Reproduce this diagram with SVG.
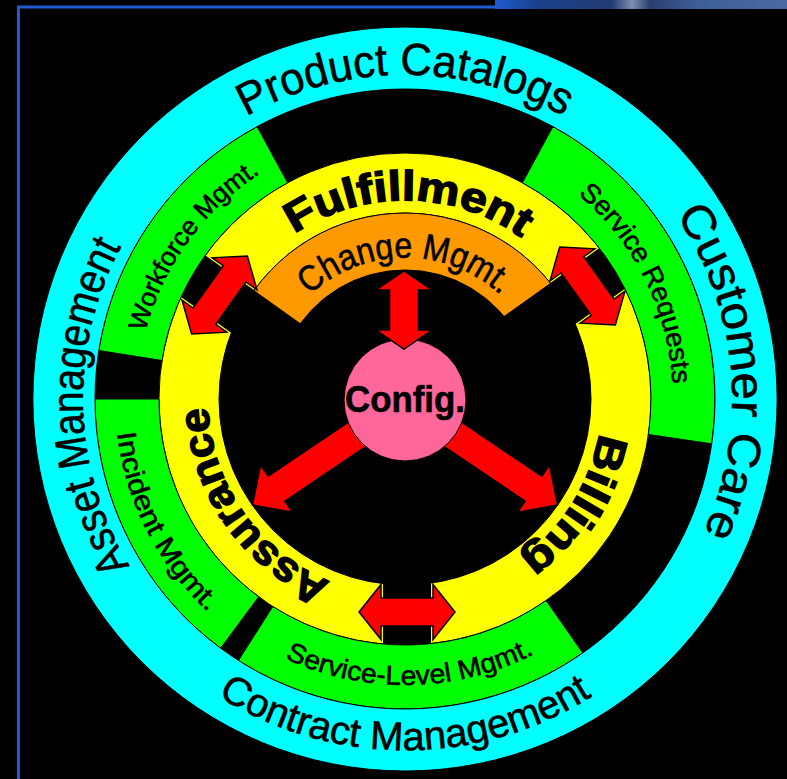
<svg xmlns="http://www.w3.org/2000/svg" width="787" height="779" viewBox="0 0 787 779">
<defs>
<style>
.ln{stroke:#000;stroke-width:1}
.lbl{font-family:'Liberation Sans',Arial,Helvetica,sans-serif;fill:#000;stroke:#000;stroke-width:0.6}
.bd{font-weight:bold;stroke-width:1.5}
.arr{fill:#f00;stroke:#000;stroke-width:1.5;stroke-linejoin:miter}
.band{fill:#000}
</style>
<linearGradient id="tr" x1="0" y1="0" x2="1" y2="0">
<stop offset="0" stop-color="#1e5bd0"/>
<stop offset="0.15" stop-color="#1a3f8a"/>
<stop offset="0.4" stop-color="#223c74"/>
<stop offset="0.47" stop-color="#7f8fb0"/>
<stop offset="0.53" stop-color="#2a3f70"/>
<stop offset="0.7" stop-color="#3f5f98"/>
<stop offset="1" stop-color="#4a68a0"/>
</linearGradient>
<polygon id="dbl" points="-48,0 -26,-27.5 -26,-14 26,-14 26,-27.5 48,0 26,27.5 26,14 -26,14 -26,27.5"/>
<polygon id="sgl" points="40,-15 155,-15 155,-28.5 184,0 155,28.5 155,15 40,15"/>
<path id="pPC" d="M85.9,342.7 A324,324 0 0 1 724.1,342.7"/>
<path id="pCC" d="M433.5,73.2 A327,327 0 0 1 489.6,714.9"/>
<path id="pAM" d="M357.4,717.5 A322,322 0 0 1 340.8,83.5"/>
<path id="pCM" d="M59.3,460 A351,351 0 0 0 750.7,460"/>
<path id="pWF" d="M212.6,585.5 A268,268 0 0 1 522.1,157.9"/>
<path id="pSR" d="M328.9,142 A268,268 0 0 1 564.4,614.4"/>
<path id="pIM" d="M230.5,167.4 A290,290 0 0 0 489.8,676.3"/>
<path id="pSL" d="M124.3,453.6 A286,286 0 0 0 687.5,443.7"/>
<path id="pFU" d="M209.7,361 A199,199 0 0 1 601.5,367.9"/>
<path id="pBI" d="M536.8,252.6 A197,197 0 0 1 331.2,581.7"/>
<path id="pAS" d="M488.5,577.5 A197,197 0 0 1 265.7,259.7"/>
<path id="pCH" d="M266.1,374.5 A141,141 0 0 1 543.9,374.5"/>
</defs>
<rect width="787" height="779" fill="#000"/>
<g id="frame">
<rect x="495" y="0" width="292" height="9" fill="url(#tr)"/>
<line x1="17" y1="7" x2="496" y2="7" stroke="#1e5bd0" stroke-width="3"/>
<line x1="18.5" y1="6" x2="18.5" y2="779" stroke="#1e5bd0" stroke-width="3"/>
</g>
<g id="yellow-ring">
<path class="ln" fill="#ff0" fill-rule="evenodd" d="M405,153 A246,246 0 1 1 405,645 A246,246 0 1 1 405,153 Z M405,213 A186,186 0 1 0 405,585 A186,186 0 1 0 405,213 Z"/>
</g>
<g id="change-mgmt">
<path class="ln" fill="#f90" d="M240.8,311.7 A186,186 0 0 1 569.2,311.7 L518.9,338.4 A129,129 0 0 0 291.1,338.4 Z"/>
</g>
<g id="gaps">
<rect class="band" x="-40" y="-24" width="160" height="48" transform="translate(219.5,295) rotate(35.5)"/>
<rect class="band" x="-40" y="-24" width="160" height="48" transform="translate(587.5,286) rotate(144.5)"/>
<rect class="band" x="383" y="500" width="48" height="155"/>
</g>
<g id="workforce-mgmt">
<path class="ln" fill="#0f0" d="M98.8,350.5 A310,310 0 0 1 257.1,126.6 L287.6,182.8 A246,246 0 0 0 162,360.5 Z"/>
</g>
<g id="service-requests">
<path class="ln" fill="#0f0" d="M552.9,126.6 A310,310 0 0 1 711.7,443.8 L648.4,434.5 A246,246 0 0 0 522.4,182.8 Z"/>
</g>
<g id="service-level-mgmt">
<path class="ln" fill="#0f0" d="M582.8,652.9 A310,310 0 0 1 238.4,660.5 L272.8,606.5 A246,246 0 0 0 546.1,600.5 Z"/>
</g>
<g id="incident-mgmt">
<path class="ln" fill="#0f0" d="M220.6,648.2 A310,310 0 0 1 95,399 L159,399 A246,246 0 0 0 258.7,596.8 Z"/>
</g>
<g id="outer-ring">
<path class="ln" fill="#0ff" fill-rule="evenodd" d="M405,27 A372,372 0 1 1 405,771 A372,372 0 1 1 405,27 Z M405,89 A310,310 0 1 0 405,709 A310,310 0 1 0 405,89 Z"/>
</g>
<g id="connectors">
<use href="#sgl" class="arr" transform="translate(405,402) rotate(34)"/>
<use href="#sgl" class="arr" transform="translate(405,402) rotate(146)"/>
</g>
<g id="config">
<circle class="ln" cx="405" cy="400" r="61" fill="#f69"/>
<text class="lbl" x="405" y="412" font-size="37" font-weight="bold" stroke-width="0.8" text-anchor="middle" textLength="120" lengthAdjust="spacingAndGlyphs">Config.</text>
</g>
<g id="connectors-top">
<polygon class="arr" points="404,271 432,290 418.5,290 418.5,330 432,330 404,349 376,330 389.5,330 389.5,290 376,290"/>
<use href="#dbl" class="arr" transform="translate(407,612)"/>
<use href="#dbl" class="arr" transform="translate(219.5,295) rotate(-54.5)"/>
<use href="#dbl" class="arr" transform="translate(587.5,286) rotate(54.5)"/>
</g>
<g id="labels">
<text class="lbl" font-size="45" text-anchor="middle"><textPath href="#pPC" startOffset="50%" textLength="332" lengthAdjust="spacingAndGlyphs">Product Catalogs</textPath></text>
<text class="lbl" font-size="46" text-anchor="middle"><textPath href="#pCC" startOffset="50%" textLength="334" lengthAdjust="spacingAndGlyphs">Customer Care</textPath></text>
<text class="lbl" font-size="44" text-anchor="middle"><textPath href="#pAM" startOffset="50%" textLength="334" lengthAdjust="spacingAndGlyphs">Asset Management</textPath></text>
<text class="lbl" font-size="40" text-anchor="middle"><textPath href="#pCM" startOffset="50%" textLength="395" lengthAdjust="spacingAndGlyphs">Contract Management</textPath></text>
<text class="lbl" font-size="26" text-anchor="middle"><textPath href="#pWF" startOffset="50%" textLength="200" lengthAdjust="spacingAndGlyphs">Workforce Mgmt.</textPath></text>
<text class="lbl" font-size="27" text-anchor="middle"><textPath href="#pSR" startOffset="50%" textLength="218" lengthAdjust="spacingAndGlyphs">Service Requests</textPath></text>
<text class="lbl" font-size="27" text-anchor="middle"><textPath href="#pIM" startOffset="50%" textLength="205" lengthAdjust="spacingAndGlyphs">Incident Mgmt.</textPath></text>
<text class="lbl" font-size="27" text-anchor="middle"><textPath href="#pSL" startOffset="50%" textLength="258" lengthAdjust="spacingAndGlyphs">Service-Level Mgmt.</textPath></text>
<text class="lbl bd" font-size="42" text-anchor="middle"><textPath href="#pFU" startOffset="50%" textLength="242" lengthAdjust="spacingAndGlyphs">Fulfillment</textPath></text>
<text class="lbl bd" font-size="42" text-anchor="middle"><textPath href="#pBI" startOffset="50%" textLength="152" lengthAdjust="spacingAndGlyphs">Billing</textPath></text>
<text class="lbl bd" font-size="42" text-anchor="middle"><textPath href="#pAS" startOffset="50%" textLength="225" lengthAdjust="spacingAndGlyphs">Assurance</textPath></text>
<text class="lbl" font-size="36" text-anchor="middle"><textPath href="#pCH" startOffset="50%" textLength="210" lengthAdjust="spacingAndGlyphs">Change Mgmt.</textPath></text>
</g>
</svg>
